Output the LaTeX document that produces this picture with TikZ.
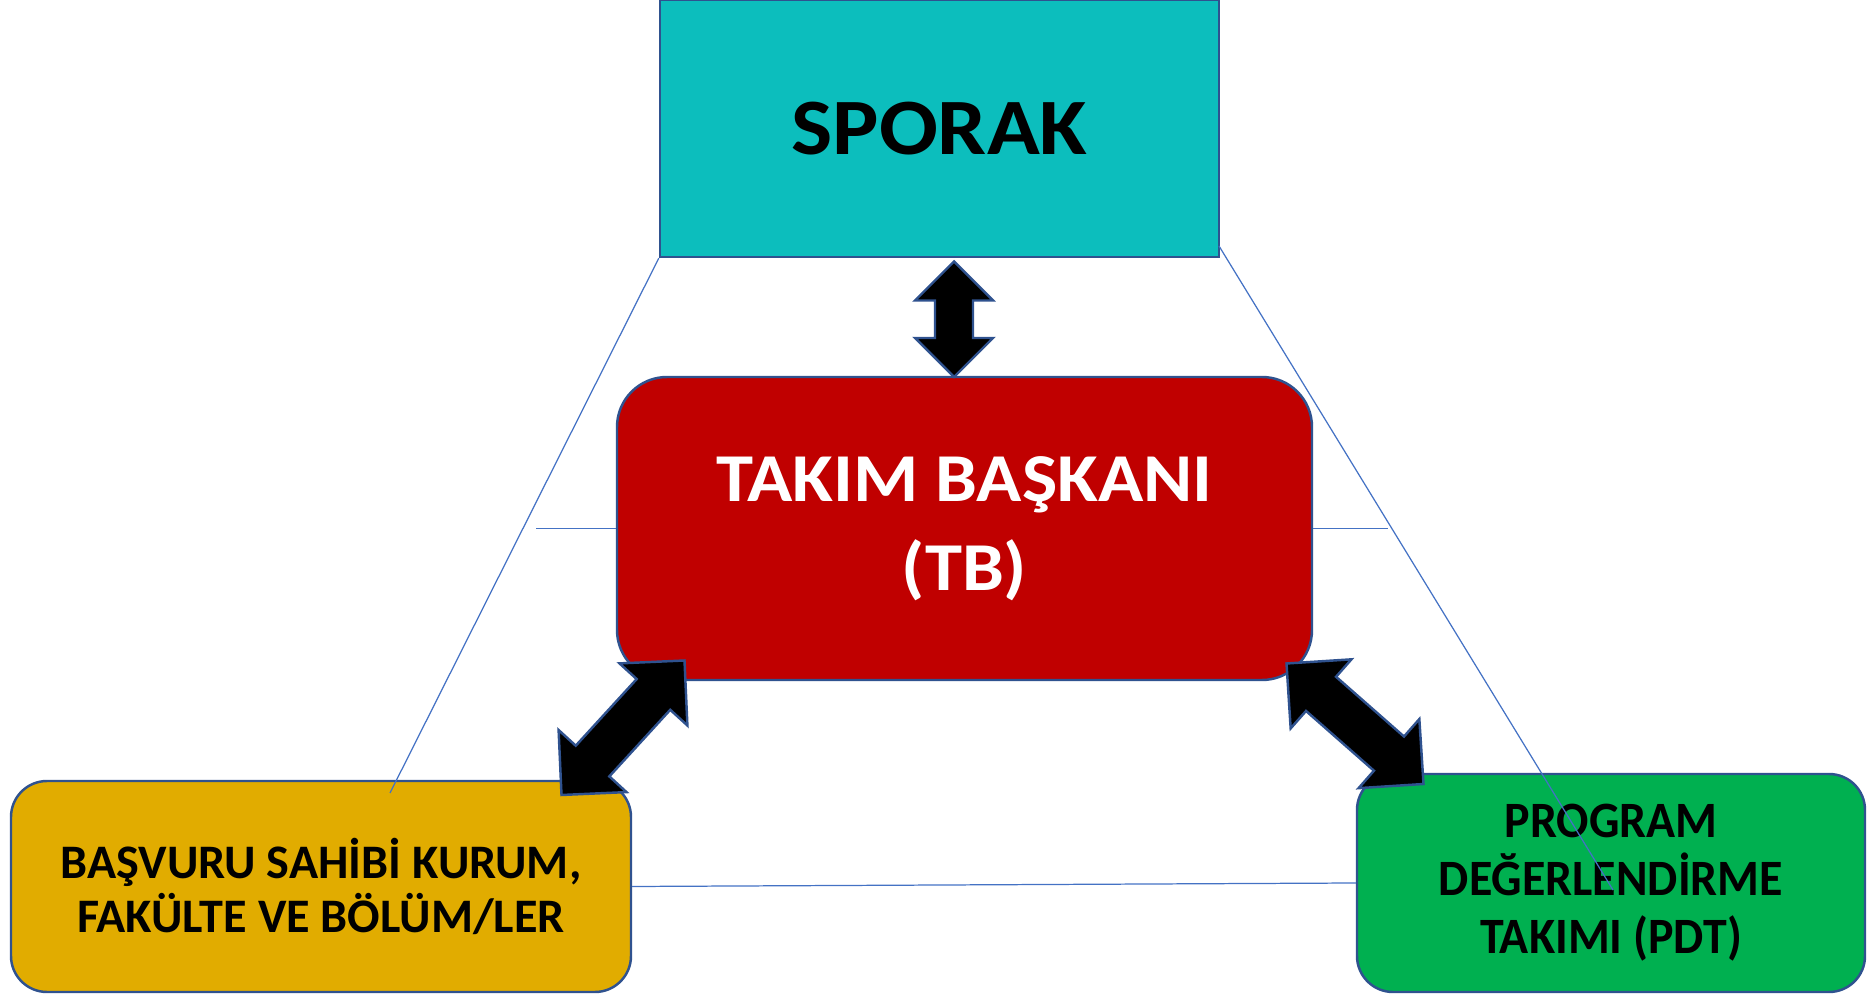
\documentclass[tikz,border=0pt]{standalone}
\usepackage{fontspec}
\setmainfont{Carlito}
\newfontfamily\sporakfont[FakeStretch=1.09]{Carlito}
\newfontfamily\tbfont[FakeStretch=1.09]{Carlito}
\newfontfamily\pdtfont[FakeStretch=0.94]{Carlito}
\usepackage{tikz}
\usetikzlibrary{calc}
\usepackage{xcolor}
\definecolor{sporakteal}{HTML}{0CBEBD}
\definecolor{tbred}{HTML}{C00000}
\definecolor{kurumgold}{HTML}{E1AC00}
\definecolor{pdtgreen}{HTML}{00B050}
\definecolor{edgeblue}{HTML}{2F528F}
\definecolor{lineblue}{HTML}{4472C4}

\begin{document}
\begin{tikzpicture}[line join=miter,
  box/.style={draw=edgeblue,line width=1.4pt,align=center},
  blockarrow/.style={fill=black,draw=edgeblue,line width=1.4pt},
  guide/.style={lineblue,line width=0.7pt}]
\useasboundingbox (0,0) rectangle (37.34,19.94);
% boxes
\node[box,fill=sporakteal,minimum width=11.18cm,minimum height=5.14cm,
  font=\sporakfont\bfseries\fontsize{45.5}{55}\selectfont] (sporak) at (18.79,17.37) {SPORAK};
\node[box,fill=tbred,text=white,rounded corners=1cm,minimum width=13.9cm,minimum height=6.06cm,
  font=\tbfont\bfseries\fontsize{39}{50.5}\selectfont] (tb) at (19.29,9.37) {TAKIM BAŞKANI\\(TB)};
\node[box,fill=kurumgold,rounded corners=0.72cm,minimum width=12.4cm,minimum height=4.22cm,
  font=\bfseries\fontsize{27.4}{30.4}\selectfont] (basvuru) at (6.42,2.21) {BAŞVURU SAHİBİ KURUM,\\FAKÜLTE VE BÖLÜM/LER};
\node[box,fill=pdtgreen,rounded corners=0.72cm,minimum width=10.16cm,minimum height=4.36cm,
  font=\pdtfont\bfseries\fontsize{29}{33}\selectfont] (pdt) at (32.22,2.28) {PROGRAM\\DEĞERLENDİRME\\TAKIMI (PDT)};
% thin guide lines
\coordinate (sr) at (24.38,15.02);
\coordinate (gl) at (7.8,4.08);
\coordinate (gr) at (32.26,2.14);
\coordinate (hl) at (10.72,9.37);
\coordinate (hr) at (27.76,9.37);
\draw[guide] (sporak.south west) -- (gl);
\draw[guide] (sr) -- (gr);
\draw[guide] (hl) -- (tb.west);
\draw[guide] (tb.east) -- (hr);
\draw[guide] (basvuru.east) -- (pdt.west);
% block arrows
\coordinate (sp-tip) at (19.08,14.71);
\coordinate (tb-top) at (19.08,12.4);
\coordinate (tb-sw) at (13.69,6.73);
\coordinate (bs-ne) at (11.23,4.04);
\coordinate (tb-se) at (25.73,6.67);
\coordinate (pd-nw) at (28.47,4.26);
\foreach \a/\b/\h/\s in {sp-tip/tb-top/0.78cm/0.38cm,tb-sw/bs-ne/0.92cm/0.455cm,tb-se/pd-nw/0.92cm/0.455cm}
  \filldraw[blockarrow] (\a) -- ($(\a)!\h!(\b)!\h!90:(\b)$) -- ($(\a)!\h!(\b)!\s!90:(\b)$)
    -- ($(\b)!\h!(\a)!\s!-90:(\a)$) -- ($(\b)!\h!(\a)!\h!-90:(\a)$) -- (\b)
    -- ($(\b)!\h!(\a)!\h!90:(\a)$) -- ($(\b)!\h!(\a)!\s!90:(\a)$)
    -- ($(\a)!\h!(\b)!\s!-90:(\b)$) -- ($(\a)!\h!(\b)!\h!-90:(\b)$) -- cycle;
\end{tikzpicture}
\end{document}
